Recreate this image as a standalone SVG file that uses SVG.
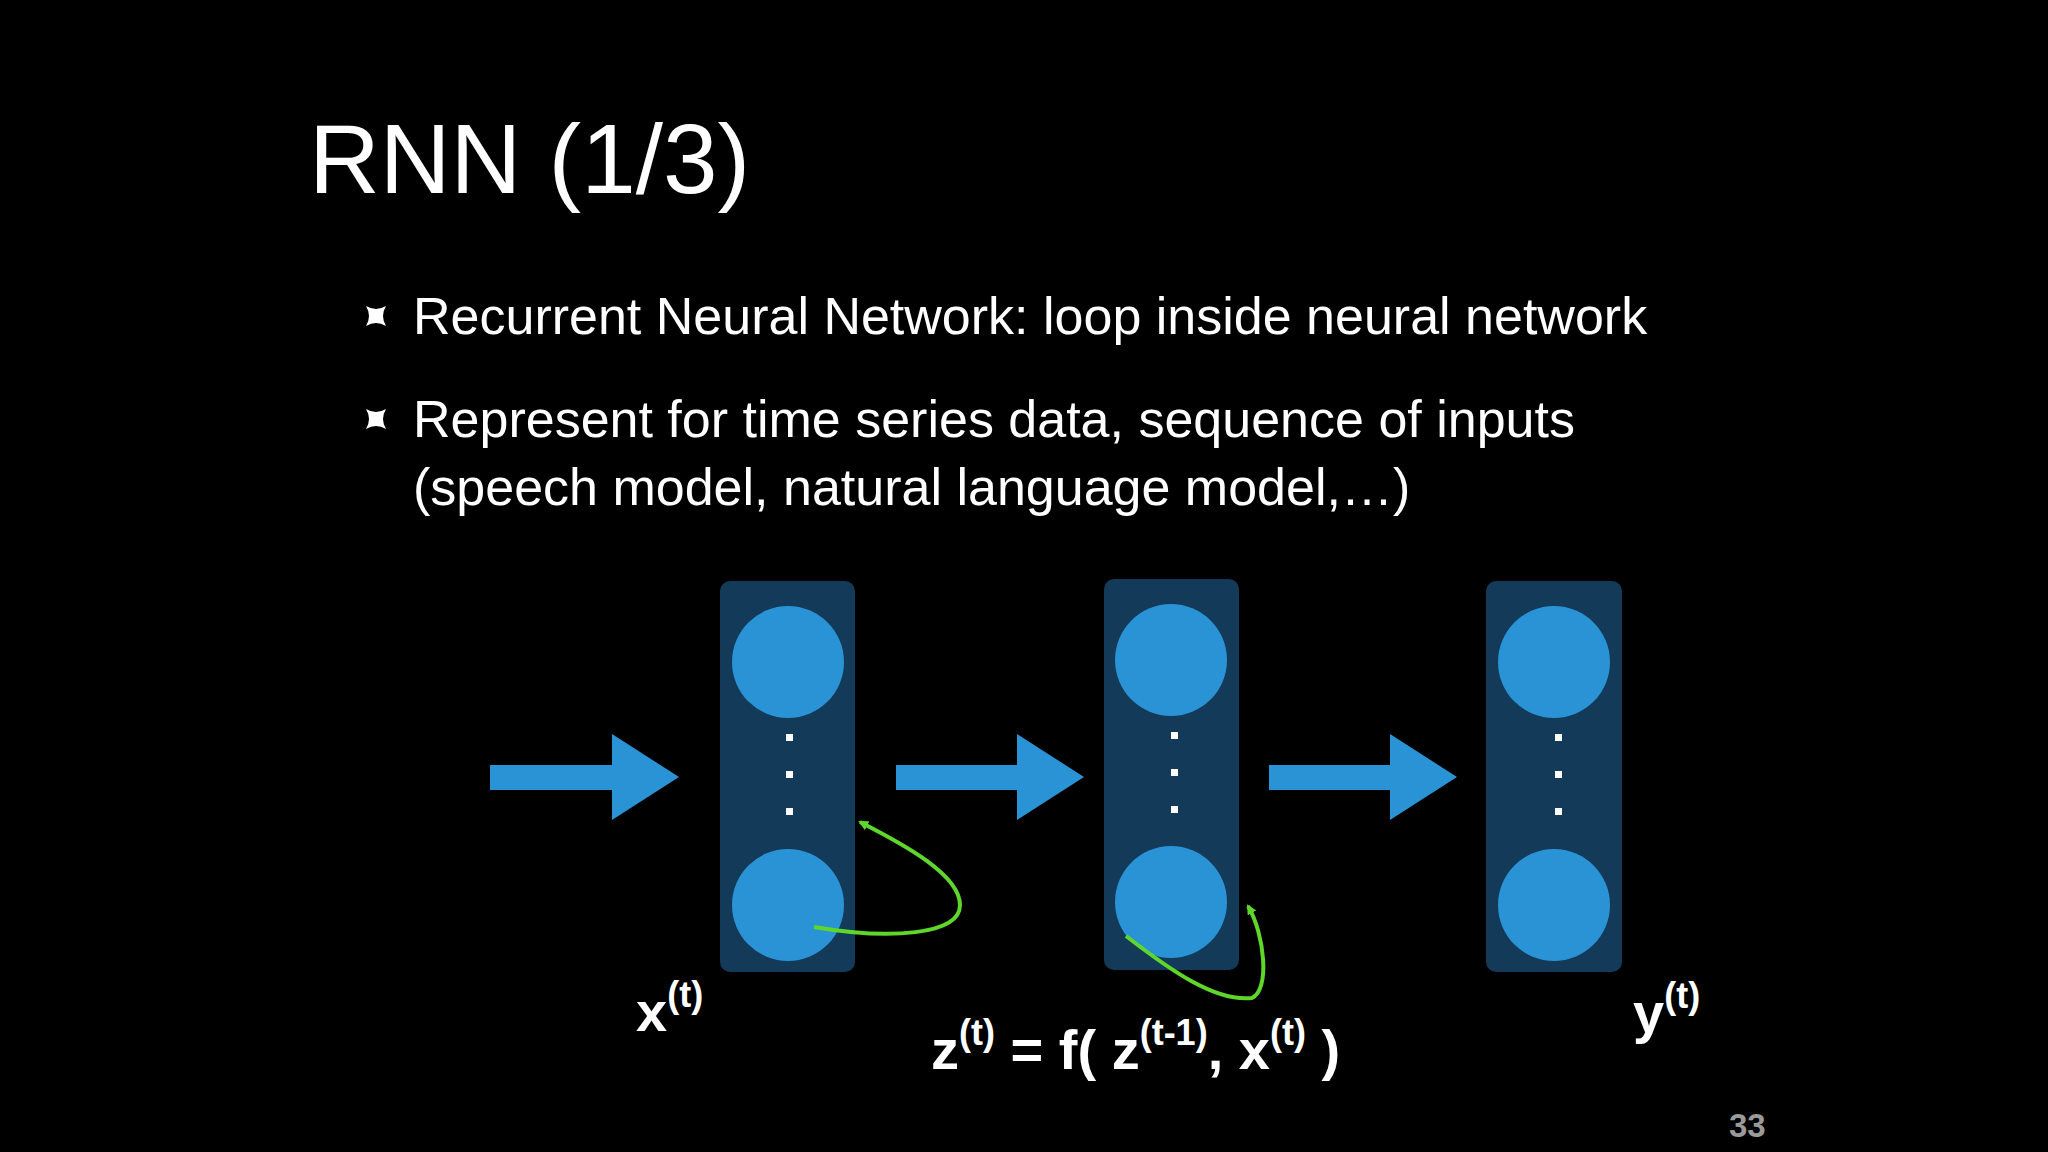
<svg xmlns="http://www.w3.org/2000/svg" width="2048" height="1152" viewBox="0 0 2048 1152">
<style>
.t{font-family:"Helvetica Neue","Liberation Sans",Arial,sans-serif;fill:#fff}
.b{font-size:52px;font-weight:300}
.lab{font-size:56px;font-weight:bold}
.sup{font-size:36px;font-weight:bold}
.box{fill:#133a58}
.c{fill:#2a93d5}
.d{fill:#fff}
.ar{fill:#2a93d5}
.g{fill:none;stroke:#5fd62a;stroke-width:4}
</style>
<defs>
<marker id="gh" markerWidth="10" markerHeight="10" refX="8" refY="5" orient="auto" markerUnits="userSpaceOnUse" viewBox="0 0 10 10"><path d="M0,0 L10,5 L0,10 z" fill="#5fd62a"/></marker>
<path id="bul" d="M-10,-10 Q0,-4 10,-10 Q4,0 10,10 Q0,4 -10,10 Q-4,0 -10,-10z" fill="#fff"/>
</defs>
<rect width="2048" height="1152" fill="#000"/>
<text class="t" x="309" y="193" font-size="98" font-weight="300">RNN (1/3)</text>
<use href="#bul" x="376" y="316"/>
<use href="#bul" x="376" y="419"/>
<text class="t b" x="413" y="334">Recurrent Neural Network: loop inside neural network</text>
<text class="t b" x="413" y="437">Represent for time series data, sequence of inputs</text>
<text class="t b" x="413" y="505">(speech model, natural language model,…)</text>
<g id="n1"><rect class="box" x="720" y="581" width="135" height="391" rx="10"/><circle class="c" cx="788" cy="662" r="56"/><circle class="c" cx="788" cy="905" r="56"/><rect class="d" x="786" y="734" width="7" height="7"/><rect class="d" x="786" y="771" width="7" height="7"/><rect class="d" x="786" y="808" width="7" height="7"/></g>
<g id="n2"><rect class="box" x="1104" y="579" width="135" height="391" rx="10"/><circle class="c" cx="1171" cy="660" r="56"/><circle class="c" cx="1171" cy="902" r="56"/><rect class="d" x="1171" y="732" width="7" height="7"/><rect class="d" x="1171" y="769" width="7" height="7"/><rect class="d" x="1171" y="806" width="7" height="7"/></g>
<g id="n3"><rect class="box" x="1486" y="581" width="136" height="391" rx="10"/><circle class="c" cx="1554" cy="662" r="56"/><circle class="c" cx="1554" cy="905" r="56"/><rect class="d" x="1555" y="734" width="7" height="7"/><rect class="d" x="1555" y="771" width="7" height="7"/><rect class="d" x="1555" y="808" width="7" height="7"/></g>
<g id="connectors">
<path class="ar" d="M490,765 H612 V734 L679,777 L612,820 V790 H490z"/>
<path class="ar" d="M896,765 H1017 V734 L1084,777 L1017,820 V790 H896z"/>
<path class="ar" d="M1269,765 H1390 V734 L1457,777 L1390,820 V790 H1269z"/>
<path class="g" marker-end="url(#gh)" d="M814,927 C890,940 960,935 960,905 C960,875 905,845 860,822"/>
<path class="g" marker-end="url(#gh)" d="M1126,936 C1170,970 1215,1002 1252,998 C1270,990 1265,935 1248,906"/>
</g>
<text class="t" x="636" y="1031"><tspan class="lab">x</tspan><tspan class="sup" dy="-24">(t)</tspan></text>
<text class="t" x="1633" y="1032"><tspan class="lab">y</tspan><tspan class="sup" dy="-24">(t)</tspan></text>
<text class="t" x="931" y="1069"><tspan class="lab">z</tspan><tspan class="sup" dy="-24">(t)</tspan><tspan class="lab" dy="24"> = f( z</tspan><tspan class="sup" dy="-24">(t-1)</tspan><tspan class="lab" dy="24">, x</tspan><tspan class="sup" dy="-24">(t)</tspan><tspan class="lab" dy="24"> )</tspan></text>
<text x="1729" y="1137" font-family="Liberation Sans,Arial,sans-serif" font-size="33" font-weight="bold" fill="#9a9a9a">33</text>
</svg>
